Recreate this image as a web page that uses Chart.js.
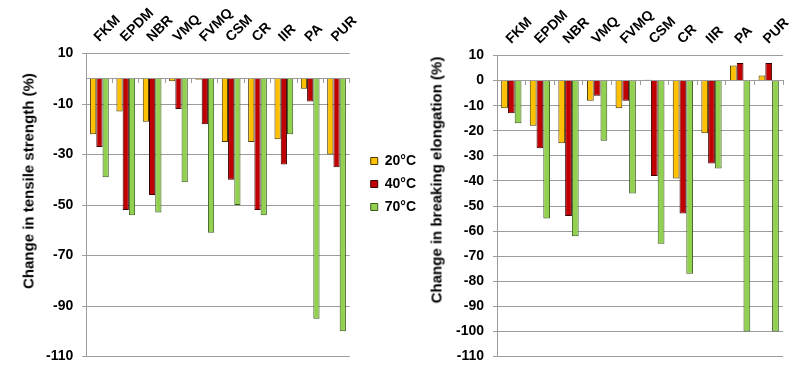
<!DOCTYPE html>
<html>
<head>
<meta charset="utf-8">
<script src="https://cdn.jsdelivr.net/npm/chart.js@4.4.0/dist/chart.umd.min.js"></script>
<style>
  body { margin: 0; background: #fff; }
  #page { position: relative; width: 809px; height: 371px; overflow: hidden; font-family: "Liberation Sans", Arial, sans-serif; }
  .box { position: absolute; top: 0; height: 374px; }
  #leftBox { left: 0; width: 430px; }
  #rightBox { left: 430px; width: 379px; }
  .ytitle { position: absolute; font-weight: bold; font-size: 15px; white-space: nowrap; color: #000;
            transform: translate(-50%, -50%) rotate(-90deg); }
</style>
</head>
<body>
<div id="page">
  <div class="box" id="leftBox"><canvas id="tensile"></canvas></div>
  <div class="box" id="rightBox"><canvas id="elong"></canvas></div>
  <div class="ytitle" style="left:28px; top:181px;">Change in tensile strength (%)</div>
  <div class="ytitle" style="left:436px; top:180px;">Change in breaking elongation (%)</div>
</div>
<script>
var materials = ['FKM', 'EPDM', 'NBR', 'VMQ', 'FVMQ', 'CSM', 'CR', 'IIR', 'PA', 'PUR'];
var seriesNames = ['20°C', '40°C', '70°C'];

// change in tensile strength (%)
var tensile20 = [-22, -13, -17, -1, -0.4, -25, -25, -24, -4, -30];
var tensile40 = [-27, -52, -46, -12, -18, -40, -52, -34, -9, -35];
var tensile70 = [-39, -54, -53, -41, -61, -50, -54, -22, -95, -100];
var tensileTicks = [-110, 10, 20]; // min, max, step

// change in breaking elongation (%)
var elong20 = [-11, -18, -25, -8, -11, 0.3, -39, -21, 6, 2];
var elong40 = [-13, -27, -54, -6, -8, -38, -53, -33, 7, 7];
var elong70 = [-17, -55, -62, -24, -45, -65, -77, -35, -100, -100];
var elongTicks = [-110, 10, 10];

var fills = ['#FFC000', '#C00000', '#92D050'];
var edges = ['#4a3800', '#3a0000', '#3b5a1e'];
var gridGrey = '#9c9c9c';
var font = { family: '"Liberation Sans", Arial, sans-serif', size: 14, weight: 'bold' };

function makeChart(id, values, yTicks, showLegend, pad) {
  var datasets = [];
  for (var i = 0; i < values.length; i++) {
    datasets.push({
      label: seriesNames[i],
      data: values[i],
      backgroundColor: fills[i],
      borderColor: edges[i],
      borderWidth: 1,
      categoryPercentage: 0.71,
      barPercentage: 1
    });
  }
  var scales = {
    x: {
      type: 'category',
      position: { y: 0 },
      ticks: { display: false },
      grid: { drawOnChartArea: false, tickLength: 4, color: gridGrey, offset: true },
      border: { color: gridGrey }
    },
    xTop: {
      type: 'category',
      position: 'top',
      labels: materials,
      offset: true,
      grid: { display: false, drawTicks: false },
      border: { display: false },
      ticks: { minRotation: 45, maxRotation: 45, autoSkip: false, padding: 8, labelOffset: 9,
               color: '#000', font: font }
    },
    y: {
      min: yTicks[0],
      max: yTicks[1],
      ticks: { stepSize: yTicks[2], padding: 9, color: '#000', font: font },
      grid: { color: gridGrey, tickLength: 4 },
      border: { color: gridGrey }
    }
  };
  if (showLegend) {
    // empty strip between plot and legend
    scales.gap = {
      type: 'linear', position: 'right', display: true,
      ticks: { display: false }, grid: { display: false }, border: { display: false },
      afterFit: function(scale) { scale.width = 12; }
    };
  }
  return new Chart(document.getElementById(id), {
    type: 'bar',
    data: { labels: materials, datasets: datasets },
    options: {
      responsive: true,
      maintainAspectRatio: false,
      animation: false,
      layout: { padding: pad },
      plugins: {
        tooltip: { enabled: false },
        legend: {
          display: showLegend,
          position: 'right',
          labels: { boxWidth: 7, boxHeight: 7, padding: 9, color: '#000', font: font }
        }
      },
      scales: scales
    }
  });
}

makeChart('tensile', [tensile20, tensile40, tensile70], tensileTicks, true,
  { left: 37, top: -3, right: 4, bottom: 3 });
makeChart('elong', [elong20, elong40, elong70], elongTicks, false,
  { left: 17, top: -1, right: 26, bottom: 3 });
</script>
</body>
</html>
